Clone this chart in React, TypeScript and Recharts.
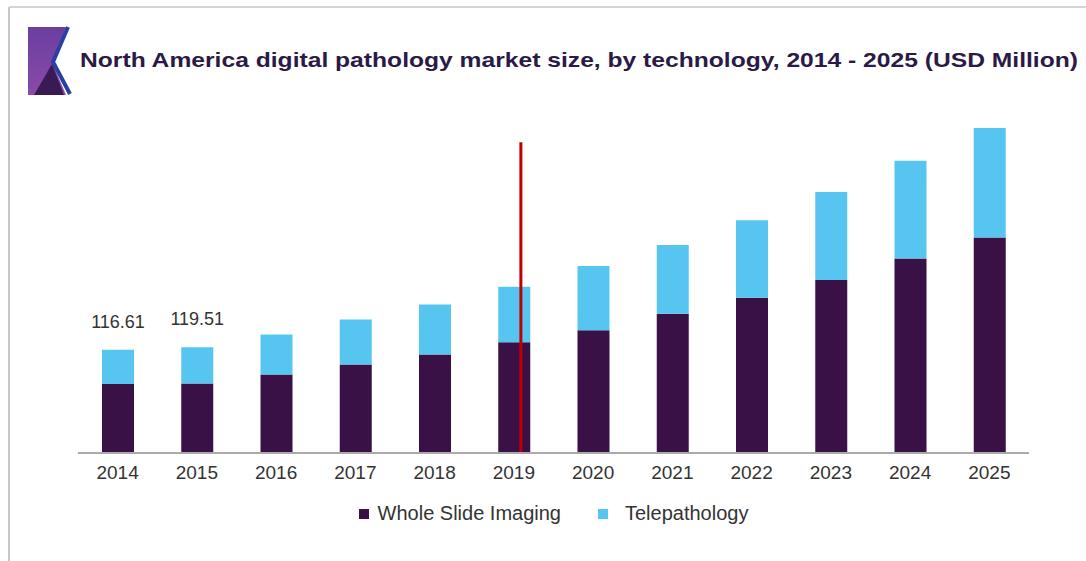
import React from "react";
import {
  BarChart,
  Bar,
  XAxis,
  YAxis,
  Legend,
  LabelList,
  ReferenceLine,
} from "recharts";

// Years on the category axis
const years = [
  "2014", "2015", "2016", "2017", "2018", "2019",
  "2020", "2021", "2022", "2023", "2024", "2025",
];

// Market size, USD million
const wholeSlideImaging = [78.1, 78.4, 88.6, 100.0, 111.3, 125.2, 138.8, 157.3, 175.5, 195.4, 219.9, 243.4];
const telepathology = [38.5, 41.1, 45.3, 50.9, 56.6, 62.7, 72.4, 77.7, 87.5, 99.6, 110.2, 123.7];

// Only the first two totals are printed on the chart
const totalLabels = ["116.61", "119.51", "", "", "", "", "", "", "", "", "", ""];

// Red marker drawn at the base year
const markerYear = "2019";
const markerTop = 351;

const COLORS = {
  wsi: "#3a1147",
  tele: "#56c6f0",
  title: "#2a1a45",
  text: "#333333",
  axis: "#aaaaaa",
  marker: "#c00000",
};

const chartData = years.map((year, i) => ({
  year,
  wsi: wholeSlideImaging[i],
  tele: telepathology[i],
  label: totalLabels[i],
}));

const FONT = "'Liberation Sans', Arial, Helvetica, sans-serif";

function LegendContent() {
  const items = [
    { name: "Whole Slide Imaging", color: COLORS.wsi },
    { name: "Telepathology", color: COLORS.tele },
  ];
  return (
    <div
      style={{
        display: "flex",
        justifyContent: "center",
        alignItems: "center",
        gap: 37,
        fontFamily: FONT,
        fontSize: 20,
        color: COLORS.text,
      }}
    >
      {items.map((it) => (
        <div key={it.name} style={{ display: "flex", alignItems: "center" }}>
          <span
            style={{
              width: 10,
              height: 10,
              background: it.color,
              display: "inline-block",
              marginRight: it.name === "Telepathology" ? 17 : 9,
            }}
          />
          <span>{it.name}</span>
        </div>
      ))}
    </div>
  );
}

function Header() {
  return (
    <svg
      width={1086}
      height={561}
      style={{ position: "absolute", left: 0, top: 0 }}
    >
      <defs>
        <linearGradient id="rule" x1="0" x2="1" y1="0" y2="0">
          <stop offset="0%" stopColor="#2b3f9f" />
          <stop offset="100%" stopColor="#7b3fa8" />
        </linearGradient>
        <linearGradient id="badge" x1="0" x2="0" y1="0" y2="1">
          <stop offset="0%" stopColor="#6a3fa0" />
          <stop offset="100%" stopColor="#8a4aa8" />
        </linearGradient>
      </defs>
      {/* frame */}
      <line x1={9} y1={7} x2={1086} y2={7} stroke="#d4d4d4" strokeWidth={2} />
      <line x1={9} y1={7} x2={9} y2={561} stroke="#c8c8c8" strokeWidth={2} />
      {/* badge */}
      <polygon points="28,27 66,27 52,62 66,95 28,95" fill="url(#badge)" />
      <polygon points="34,95 52,64 64,95" fill="#3a1a55" />
      <polyline
        points="68,27 53,62 70,94"
        fill="none"
        stroke="#2b3fa0"
        strokeWidth={4}
      />
      <line x1={28} y1={93} x2={1086} y2={93} stroke="url(#rule)" strokeWidth={3} />
      <text
        x={80}
        y={67}
        fontFamily={FONT}
        fontWeight="bold"
        fontSize={21}
        textLength={998}
        lengthAdjust="spacingAndGlyphs"
        fill={COLORS.title}
      >
        North America digital pathology market size, by technology, 2014 - 2025 (USD Million)
      </text>
    </svg>
  );
}

export default function App() {
  return (
    <div
      style={{
        position: "fixed",
        left: 0,
        top: 0,
        width: 1086,
        height: 561,
        background: "#ffffff",
      }}
    >
      <Header />
      <div style={{ position: "absolute", left: 0, top: 0 }}>
        <BarChart
          width={1086}
          height={561}
          data={chartData}
          margin={{ top: 99, right: 57, bottom: 78, left: 78 }}
        >
          <XAxis
            dataKey="year"
            height={30}
            tickLine={false}
            axisLine={{ stroke: COLORS.axis, strokeWidth: 2 }}
            tick={{ fill: COLORS.text, fontSize: 19, fontFamily: FONT }}
            tickMargin={7}
          />
          <YAxis hide domain={[0, 400]} allowDataOverflow />
          <Bar
            dataKey="wsi"
            stackId="a"
            fill={COLORS.wsi}
            barSize={32}
            name="Whole Slide Imaging"
            isAnimationActive={false}
          />
          <Bar
            dataKey="tele"
            stackId="a"
            fill={COLORS.tele}
            barSize={32}
            name="Telepathology"
            isAnimationActive={false}
          >
            <LabelList
              dataKey="label"
              position="top"
              offset={22}
              fill={COLORS.text}
              fontSize={18}
              fontFamily={FONT}
            />
          </Bar>
          <ReferenceLine
            segment={[
              { x: markerYear, y: 0 },
              { x: markerYear, y: markerTop },
            ]}
            ifOverflow="visible"
            shape={(p: any) => (
              <line
                x1={p.x1 + 7}
                y1={p.y1}
                x2={p.x2 + 7}
                y2={p.y2}
                stroke={COLORS.marker}
                strokeWidth={3}
              />
            )}
          />
          <Legend
            verticalAlign="middle"
            align="center"
            content={<LegendContent />}
            wrapperStyle={{ position: "absolute", top: 502, left: 78, width: 951 }}
          />
        </BarChart>
      </div>
    </div>
  );
}
